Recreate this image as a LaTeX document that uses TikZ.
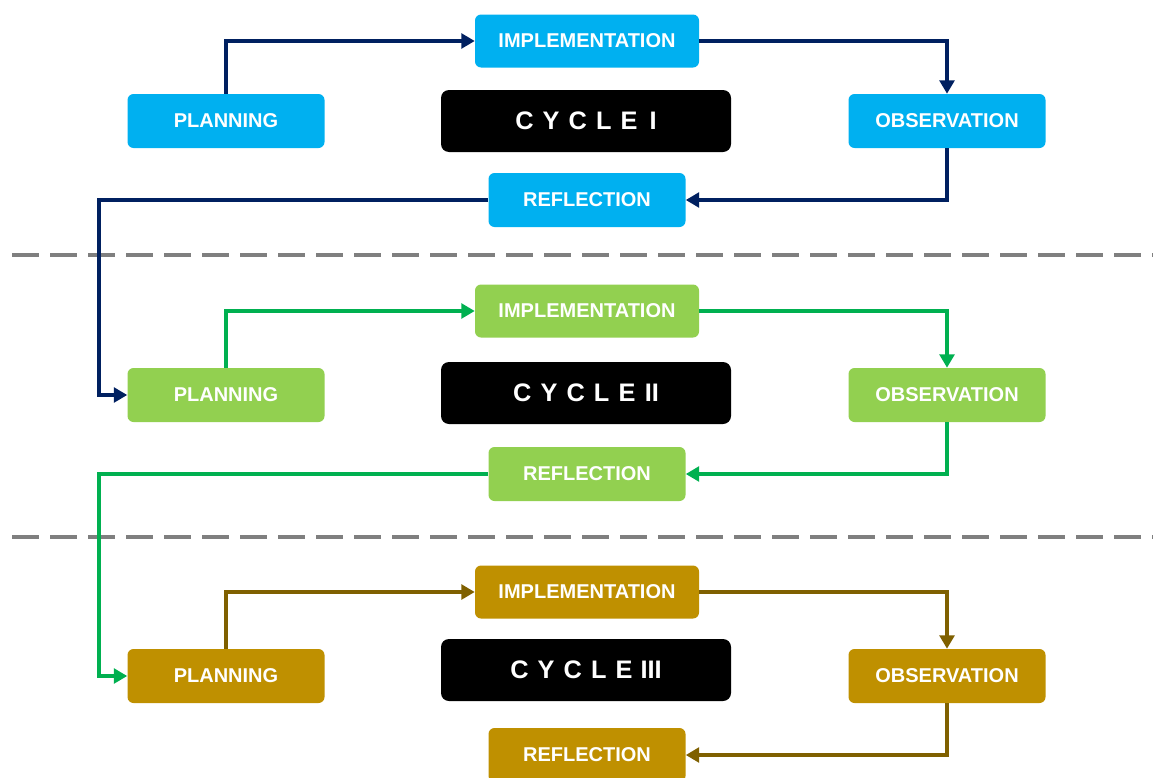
\documentclass[tikz,border=0pt]{standalone}
\usepackage{fontspec}
\setmainfont{Liberation Sans}
\usetikzlibrary{arrows.meta,calc}
\definecolor{boxA}{HTML}{00B0F0}
\definecolor{lineA}{HTML}{002060}
\definecolor{boxB}{HTML}{92D050}
\definecolor{lineB}{HTML}{00B050}
\definecolor{boxC}{HTML}{BF9000}
\definecolor{lineC}{HTML}{7F6000}
\definecolor{dashgray}{HTML}{7F7F7F}
\begin{document}
\begin{tikzpicture}[x=0.75pt,y=-0.75pt,
  stagebox/.style={rounded corners=4.5pt, inner sep=0pt, text=white,
    font=\bfseries\fontsize{15}{15}\selectfont,
    minimum width=147.75pt, minimum height=40.5pt},
  implbox/.style={stagebox, minimum width=168pt, minimum height=39.75pt},
  cyclebox/.style={fill=black, rounded corners=6pt, inner sep=0pt, text=white,
    font=\bfseries\fontsize{19}{19}\selectfont,
    minimum width=217.5pt, minimum height=46.5pt},
  conn/.style={line width=3pt, draw=#1,
    -{Triangle[length=10pt,width=11pt]}, rounded corners=0pt},
  sepline/.style={draw=dashgray, line width=2.4pt, dash pattern=on 20.25pt off 8.25pt}
]
\useasboundingbox (0,0) rectangle (1153,778);
\begin{scope}
\clip (0,0) rectangle (1153,778);

% separators
\draw[sepline] (12,255) -- (1153,255);
\draw[sepline] (12,537) -- (1153,537);

% Cycle I
\node[stagebox, fill=boxA] (p1) at (226,121) {PLANNING};
\node[implbox, fill=boxA] (i1) at (587,41) {IMPLEMENTATION};
\node[cyclebox] (c1) at (586,121) {{\addfontfeature{LetterSpace=36}CYCLE}\hspace{9pt}I};
\node[stagebox, fill=boxA] (o1) at (947,121) {OBSERVATION};
\node[stagebox, fill=boxA] (r1) at (587,200) {REFLECTION};

% Cycle II
\node[stagebox, fill=boxB] (p2) at (226,395) {PLANNING};
\node[implbox, fill=boxB] (i2) at (587,311) {IMPLEMENTATION};
\node[cyclebox] (c2) at (586,393) {{\addfontfeature{LetterSpace=36}CYCLE}\hspace{7pt}II};
\node[stagebox, fill=boxB] (o2) at (947,395) {OBSERVATION};
\node[stagebox, fill=boxB] (r2) at (587,474) {REFLECTION};

% Cycle III
\node[stagebox, fill=boxC] (p3) at (226,676) {PLANNING};
\node[implbox, fill=boxC] (i3) at (587,592) {IMPLEMENTATION};
\node[cyclebox] (c3) at (586,670) {{\addfontfeature{LetterSpace=36}CYCLE}\hspace{6pt}III};
\node[stagebox, fill=boxC] (o3) at (947,676) {OBSERVATION};
\node[stagebox, fill=boxC] (r3) at (587,755) {REFLECTION};

% connectors cycle I
\draw[conn=lineA] (p1.north) |- (i1.west);
\draw[conn=lineA] (i1.east) -| (o1.north);
\draw[conn=lineA] (o1.south) |- (r1.east);
\draw[conn=lineA] (r1.west) -| ($(p2.west)+(-28,0)$) -- (p2.west);

% connectors cycle II
\draw[conn=lineB] (p2.north) |- (i2.west);
\draw[conn=lineB] (i2.east) -| (o2.north);
\draw[conn=lineB] (o2.south) |- (r2.east);
\draw[conn=lineB] (r2.west) -| ($(p3.west)+(-28,0)$) -- (p3.west);

% connectors cycle III
\draw[conn=lineC] (p3.north) |- (i3.west);
\draw[conn=lineC] (i3.east) -| (o3.north);
\draw[conn=lineC] (o3.south) |- (r3.east);
\end{scope}
\end{tikzpicture}
\end{document}
